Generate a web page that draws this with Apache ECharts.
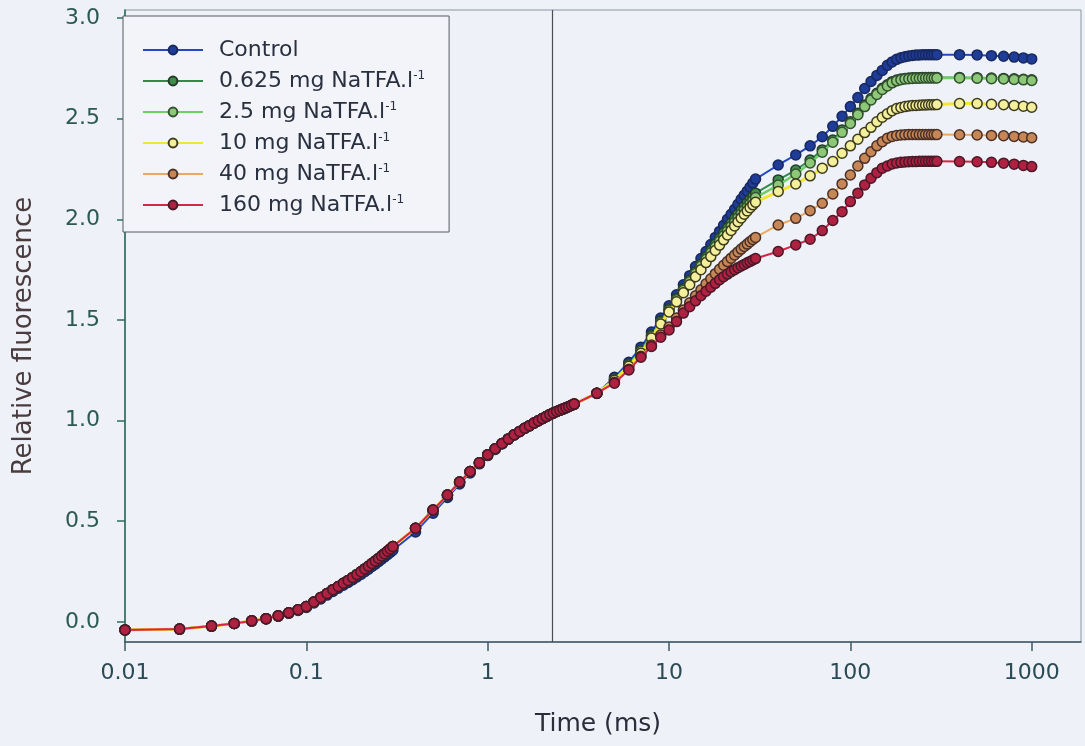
<!DOCTYPE html>
<html>
<head>
<meta charset="utf-8">
<title>OJIP fluorescence transients</title>
<script src="https://cdn.jsdelivr.net/npm/echarts@6/dist/echarts.min.js"></script>
<style>
  html, body { margin: 0; padding: 0; background: #eef1f7; }
  #chart { width: 1085px; height: 746px; }
</style>
</head>
<body>
<div id="chart"></div>
<script>
// Sampling times (ms) of the fluorescence transient
const timeMs = [
  0.01, 0.02, 0.03, 0.04, 0.05, 0.06, 0.07, 0.08, 0.09, 0.10,
  0.11, 0.12, 0.13, 0.14, 0.15, 0.16, 0.17, 0.18, 0.19, 0.20,
  0.21, 0.22, 0.23, 0.24, 0.25, 0.26, 0.27, 0.28, 0.29, 0.30,
  0.4, 0.5, 0.6, 0.7, 0.8, 0.9, 1.0, 1.1, 1.2, 1.3, 1.4, 1.5, 1.6, 1.7,
  1.8, 1.9, 2.0, 2.1, 2.2, 2.3, 2.4, 2.5, 2.6, 2.7, 2.8, 2.9, 3.0,
  4, 5, 6, 7, 8, 9, 10, 11, 12, 13, 14, 15, 16, 17, 18, 19, 20,
  21, 22, 23, 24, 25, 26, 27, 28, 29, 30,
  40, 50, 60, 70, 80, 90, 100, 110, 120, 130, 140, 150, 160, 170, 180,
  190, 200, 210, 220, 230, 240, 250, 260, 270, 280, 290, 300,
  400, 500, 600, 700, 800, 900, 1000
];

// O-J rise (0.01 - 3 ms), treated samples
const riseTreated = [
  -0.040, -0.036, -0.021, -0.008, 0.005, 0.016, 0.030, 0.045, 0.060, 0.076,
  0.099, 0.121, 0.141, 0.160, 0.176, 0.192, 0.206, 0.220, 0.235, 0.249,
  0.263, 0.276, 0.290, 0.302, 0.315, 0.327, 0.339, 0.351, 0.362, 0.374,
  0.465, 0.556, 0.630, 0.695, 0.747, 0.790, 0.830, 0.860, 0.886, 0.909,
  0.930, 0.946, 0.962, 0.975, 0.988, 0.999, 1.010, 1.020, 1.030, 1.038,
  1.045, 1.052, 1.058, 1.064, 1.070, 1.076, 1.082
];

// O-J rise (0.01 - 3 ms), control
const riseControl = [
  -0.040, -0.036, -0.021, -0.008, 0.004, 0.015, 0.028, 0.043, 0.057, 0.072,
  0.094, 0.114, 0.133, 0.151, 0.167, 0.182, 0.196, 0.209, 0.223, 0.236,
  0.249, 0.262, 0.275, 0.287, 0.299, 0.311, 0.323, 0.334, 0.345, 0.356,
  0.447, 0.540, 0.618, 0.685, 0.740, 0.785, 0.826, 0.857, 0.884, 0.907,
  0.928, 0.945, 0.961, 0.974, 0.987, 0.998, 1.009, 1.019, 1.029, 1.037,
  1.044, 1.051, 1.057, 1.063, 1.069, 1.075, 1.081
];

// J-I-P phase (4 - 1000 ms) for each treatment
const jipControl = [
  1.135, 1.215, 1.290, 1.365, 1.440, 1.510, 1.570, 1.625, 1.675, 1.720,
  1.765, 1.805, 1.840, 1.875, 1.910, 1.940, 1.970, 2.000, 2.025, 2.050,
  2.075, 2.100, 2.120, 2.140, 2.160, 2.180, 2.200,
  2.270, 2.320, 2.365, 2.410, 2.462, 2.512, 2.560, 2.605, 2.650, 2.685,
  2.715, 2.740, 2.765, 2.782, 2.795, 2.803, 2.808, 2.812, 2.814, 2.816,
  2.817, 2.818, 2.818, 2.818, 2.818, 2.818, 2.818,
  2.818, 2.817, 2.813, 2.810, 2.806, 2.802, 2.797
];
const jip0625 = [
  1.136, 1.205, 1.280, 1.350, 1.425, 1.495, 1.555, 1.607, 1.655, 1.698,
  1.740, 1.778, 1.813, 1.846, 1.877, 1.906, 1.933, 1.958, 1.982, 2.005,
  2.026, 2.046, 2.065, 2.083, 2.100, 2.116, 2.130,
  2.196, 2.245, 2.295, 2.345, 2.394, 2.444, 2.485, 2.527, 2.568, 2.600,
  2.626, 2.651, 2.668, 2.684, 2.692, 2.697, 2.700, 2.702, 2.703, 2.704,
  2.704, 2.705, 2.705, 2.705, 2.705, 2.705, 2.705,
  2.705, 2.704, 2.702, 2.700, 2.698, 2.696, 2.693
];
const jip25 = [
  1.136, 1.203, 1.276, 1.344, 1.418, 1.488, 1.548, 1.600, 1.647, 1.690,
  1.731, 1.768, 1.802, 1.834, 1.864, 1.892, 1.918, 1.942, 1.965, 1.987,
  2.008, 2.028, 2.046, 2.063, 2.079, 2.094, 2.108,
  2.170, 2.225, 2.280, 2.333, 2.383, 2.432, 2.476, 2.520, 2.560, 2.593,
  2.620, 2.645, 2.663, 2.678, 2.688, 2.694, 2.697, 2.699, 2.700, 2.701,
  2.701, 2.702, 2.702, 2.702, 2.702, 2.702, 2.702,
  2.702, 2.701, 2.699, 2.697, 2.695, 2.693, 2.690
];
const jip10 = [
  1.136, 1.200, 1.270, 1.335, 1.410, 1.480, 1.540, 1.590, 1.635, 1.675,
  1.715, 1.750, 1.785, 1.815, 1.845, 1.872, 1.898, 1.922, 1.945, 1.967,
  1.988, 2.007, 2.025, 2.042, 2.058, 2.072, 2.085,
  2.138, 2.176, 2.216, 2.254, 2.287, 2.328, 2.365, 2.398, 2.431, 2.457,
  2.485, 2.507, 2.524, 2.540, 2.550, 2.556, 2.560, 2.563, 2.565, 2.566,
  2.567, 2.568, 2.568, 2.569, 2.569, 2.569, 2.570,
  2.575, 2.575, 2.572, 2.569, 2.566, 2.562, 2.557
];
const jip40 = [
  1.136, 1.190, 1.255, 1.320, 1.375, 1.425, 1.465, 1.510, 1.550, 1.585,
  1.620, 1.650, 1.680, 1.705, 1.730, 1.752, 1.772, 1.790, 1.807, 1.823,
  1.838, 1.852, 1.865, 1.877, 1.889, 1.900, 1.910,
  1.972, 2.005, 2.043, 2.080, 2.126, 2.176, 2.220, 2.265, 2.303, 2.336,
  2.365, 2.386, 2.403, 2.412, 2.417, 2.419, 2.420, 2.421, 2.421, 2.421,
  2.421, 2.421, 2.421, 2.421, 2.421, 2.421, 2.421,
  2.420, 2.419, 2.417, 2.415, 2.412, 2.409, 2.405
];
const jip160 = [
  1.136, 1.186, 1.252, 1.315, 1.368, 1.414, 1.450, 1.492, 1.534, 1.566,
  1.595, 1.620, 1.643, 1.663, 1.682, 1.700, 1.715, 1.728, 1.740, 1.750,
  1.760, 1.768, 1.776, 1.784, 1.791, 1.798, 1.805,
  1.840, 1.873, 1.901, 1.944, 1.994, 2.038, 2.088, 2.130, 2.171, 2.204,
  2.232, 2.254, 2.265, 2.275, 2.280, 2.283, 2.285, 2.286, 2.287, 2.287,
  2.288, 2.288, 2.288, 2.288, 2.288, 2.288, 2.288,
  2.287, 2.286, 2.283, 2.279, 2.274, 2.268, 2.262
];

const seriesNames = [
  'Control',
  '0.625 mg NaTFA.l-1',
  '2.5 mg NaTFA.l-1',
  '10 mg NaTFA.l-1',
  '40 mg NaTFA.l-1',
  '160 mg NaTFA.l-1'
];

const xTickValues = [0.01, 0.1, 1, 10, 100, 1000];
const xTickLabels = ['0.01', '0.1', '1', '10', '100', '1000'];
const yTickValues = [0, 0.5, 1.0, 1.5, 2.0, 2.5, 3.0];

// Vertical reference line near the J step (ms)
const refLineTime = [2.27];

const FONT = 'DejaVu Sans';

// line colour, marker fill, marker edge, line width
const styles = [
  { line: '#2447c2', fill: '#1f3c98', edge: '#17285e', lw: 2 },
  { line: '#2f8a4c', fill: '#3f8d4a', edge: '#223a2a', lw: 2 },
  { line: '#6fcf63', fill: '#8cc878', edge: '#33502f', lw: 2.5 },
  { line: '#f4e62e', fill: '#f3ef9a', edge: '#3d3a1e', lw: 3 },
  { line: '#eaa860', fill: '#c68656', edge: '#4a3026', lw: 2 },
  { line: '#d82448', fill: '#ae2140', edge: '#4a1828', lw: 2 }
];

const curves = [
  riseControl.concat(jipControl),
  riseTreated.concat(jip0625),
  riseTreated.concat(jip25),
  riseTreated.concat(jip10),
  riseTreated.concat(jip40),
  riseTreated.concat(jip160)
];

const series = curves.map((vals, i) => ({
  type: 'line',
  name: seriesNames[i],
  data: timeMs.map((t, k) => [t, vals[k]]),
  symbol: 'circle',
  symbolSize: 10,
  showAllSymbol: true,
  lineStyle: { color: styles[i].line, width: styles[i].lw },
  itemStyle: { color: styles[i].fill, borderColor: styles[i].edge, borderWidth: 1.5 },
  emphasis: { disabled: true },
  z: 2 + i
}));

series[0].markLine = {
  silent: true,
  symbol: 'none',
  label: { show: false },
  lineStyle: { color: '#4a4d52', width: 1.2, type: 'solid' },
  data: refLineTime.map(v => ({ xAxis: v }))
};

const chart = echarts.init(document.getElementById('chart'), null, { renderer: 'canvas' });

chart.setOption({
  backgroundColor: '#eef1f7',
  animation: false,
  textStyle: { fontFamily: FONT },
  grid: {
    left: 125, right: 4, top: 10, bottom: 104,
    show: true, borderColor: '#8896a0', borderWidth: 1,
    outerBoundsMode: 'none'
  },
  legend: {
    orient: 'vertical',
    left: 123, top: 16,
    padding: [23, 24, 16, 19],
    itemWidth: 60, itemHeight: 11, itemGap: 9,
    backgroundColor: '#f2f4f9',
    borderColor: '#555b62', borderWidth: 1,
    selectedMode: false,
    data: seriesNames,
    formatter: name => name.replace(/l-1$/, 'l{sup|-1}'),
    textStyle: {
      fontFamily: FONT, fontSize: 22, color: '#29303f', lineHeight: 22,
      padding: [0, 0, 0, 11],
      rich: {
        sup: { fontFamily: FONT, fontSize: 12, color: '#29303f', lineHeight: 22, verticalAlign: 'top' }
      }
    }
  },
  xAxis: {
    type: 'log', logBase: 10,
    min: 0.01, max: 1870,
    name: 'Time (ms)',
    nameLocation: 'middle', nameGap: 70,
    nameTextStyle: { fontFamily: FONT, fontSize: 25, color: '#2b2e3a', padding: [0, 10, 0, 0] },
    axisLine: { onZero: false, lineStyle: { color: '#3e5866', width: 1.5 } },
    axisTick: { customValues: xTickValues, length: 9, lineStyle: { color: '#3e5866', width: 1.5 } },
    axisLabel: {
      customValues: xTickValues,
      formatter: v => xTickLabels[Math.round(Math.log10(v)) + 2],
      margin: 20, fontFamily: FONT, fontSize: 22, color: '#2a4a56'
    },
    splitLine: { show: false },
    minorTick: { show: false }
  },
  yAxis: {
    type: 'value',
    min: -0.1, max: 3.04,
    name: 'Relative fluorescence',
    nameLocation: 'middle', nameGap: 88, nameRotate: 90,
    nameTextStyle: { fontFamily: FONT, fontSize: 26, color: '#4a3c3e', padding: [0, 20, 0, 0] },
    axisLine: { show: true, onZero: false, lineStyle: { color: '#2f6e5c', width: 1.6 } },
    axisTick: { show: true, customValues: yTickValues, length: 8, lineStyle: { color: '#2f6e5c', width: 1.5 } },
    axisLabel: {
      customValues: yTickValues,
      formatter: v => v.toFixed(1),
      margin: 25, fontFamily: FONT, fontSize: 22, color: '#2c5a50'
    },
    splitLine: { show: false }
  },
  series: series
});
</script>
</body>
</html>
